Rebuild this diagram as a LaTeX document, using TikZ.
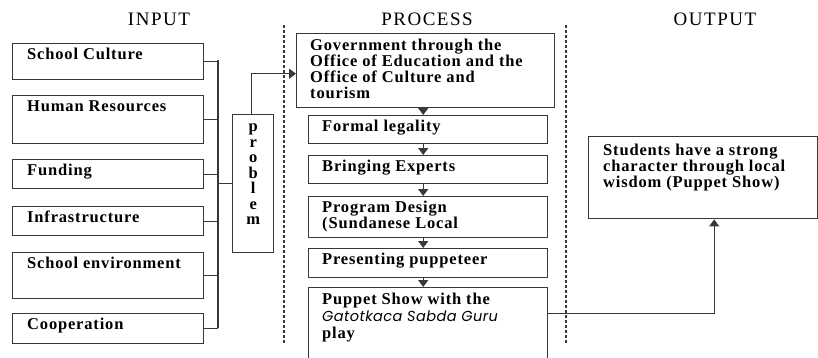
\documentclass[tikz,border=0pt]{standalone}
\usepackage{fontspec}
\setmainfont{Liberation Serif}
\newfontfamily\kastenfont[LetterSpace=5]{Liberation Serif}
\newfontfamily\titelfont[LetterSpace=8]{Liberation Serif}
\newfontfamily\kursivfont[LetterSpace=3]{Poppins}
\usetikzlibrary{arrows.meta}
\usetikzlibrary{positioning}
\definecolor{linie}{rgb}{0.22,0.22,0.22}

\begin{document}
\begin{tikzpicture}[x=1pt, y=-1pt, % Pixel-Raster, y nach unten
    kasten/.style={draw=linie, line width=1.4pt, anchor=north west, inner sep=0pt},
    inhalt/.style={anchor=north west, inner sep=0pt, align=left,
        font=\kastenfont\bfseries\fontsize{16.5}{16}\selectfont},
    titel/.style={font=\titelfont\fontsize{19}{19}\selectfont},
    pfeil/.style={draw=linie, line width=1.4pt, -{Triangle[length=7pt,width=10pt]}},
    trenner/.style={draw=linie, line width=1.4pt, dash pattern=on 3pt off 2pt}]

    \useasboundingbox (0,0) rectangle (818,357);

    % Spaltentitel
    \node[titel] (input) at (159,19) {INPUT};
    \node[titel] (process) at (427,19) {PROCESS};
    \node[titel] (output) at (715,19) {OUTPUT};

    % gestrichelte Trennlinien
    \draw[trenner] (284,25) -- (284,343);
    \draw[trenner] (566,25) -- (566,343);

    % Eingabe-Kaesten
    \coordinate (busoben) at (218,60);
    \coordinate (busunten) at (218,328);
    \draw[linie, line width=1.4pt] (busoben) -- (busunten);
    \foreach \name/\oben/\h/\txt in {
        kultur/43/36/School Culture, personal/95/48/Human Resources,
        finanz/159/29/Funding, infra/206/29/Infrastructure,
        umfeld/252/46/School environment, koop/313/30/Cooperation
    } {
        \node[kasten, minimum width=191, minimum height=\h] (\name) at (12,\oben) {};
        \node[inhalt] at ([xshift=15pt, yshift=-5pt]\name.north west) {\txt};
        \draw[linie, line width=1.4pt] (\name.east) -- (\name.east -| busoben);
    }

    % Problem-Kasten
    \node[kasten, minimum width=41, minimum height=138] (problem) at (232,114) {};
    \node[inhalt, anchor=north, align=center, font=\kastenfont\bfseries\fontsize{16.5}{15.5}\selectfont]
        at ([yshift=-10pt]problem.north) {p\\r\\o\\b\\l\\e\\m};
    \draw[linie, line width=1.4pt] (problem.west -| busoben) -- (problem.west);

    % Prozess-Kaesten
    \node[kasten, minimum width=258, minimum height=74] (regierung) at (296,33) {};
    \node[kasten, minimum width=239, minimum height=28] (legal) at (308,115) {};
    \node[kasten, minimum width=239, minimum height=28] (experten) at (308,155) {};
    \node[kasten, minimum width=239, minimum height=41] (design) at (308,196) {};
    \node[kasten, minimum width=239, minimum height=29] (puppenspieler) at (308,248) {};
    \node[kasten, minimum width=239, minimum height=72] (show) at (308,287) {};

    \node[inhalt] at ([xshift=14pt, yshift=-6pt]regierung.north west)
        {Government through the\\Office of Education and the\\Office of Culture and\\tourism};
    \node[inhalt] at ([xshift=14pt, yshift=-5pt]legal.north west) {Formal legality};
    \node[inhalt] at ([xshift=14pt, yshift=-5pt]experten.north west) {Bringing Experts};
    \node[inhalt] at ([xshift=14pt, yshift=-5pt]design.north west) {Program Design\\(Sundanese Local};
    \node[inhalt] at ([xshift=14pt, yshift=-5pt]puppenspieler.north west) {Presenting puppeteer};
    \node[inhalt, font=\kastenfont\bfseries\fontsize{16.5}{17}\selectfont]
        at ([xshift=14pt, yshift=-6pt]show.north west)
        {Puppet Show with the\\{\kursivfont\mdseries\itshape\fontsize{14.5}{17}\selectfont Gatotkaca Sabda Guru}\\play};

    \draw[pfeil] ([xshift=-5pt]legal.north |- regierung.south) -- ([xshift=-5pt]legal.north);
    \draw[pfeil] ([xshift=-5pt]legal.south) -- ([xshift=-5pt]experten.north);
    \draw[pfeil] ([xshift=-5pt]experten.south) -- ([xshift=-5pt]design.north);
    \draw[pfeil] ([xshift=-5pt]design.south) -- ([xshift=-5pt]puppenspieler.north);
    \draw[pfeil] ([xshift=-5pt]puppenspieler.south) -- ([xshift=-5pt]show.north);

    % Ausgabe
    \node[kasten, minimum width=229, minimum height=82] (ergebnis) at (588,136) {};
    \node[inhalt] at ([xshift=15pt, yshift=-8pt]ergebnis.north west)
        {Students have a strong\\character through local\\wisdom (Puppet Show)};

    \draw[pfeil] ([xshift=-2pt]problem.north) |- ([yshift=-3pt]regierung.west);
    \draw[pfeil] ([yshift=10pt]show.east) -| ([xshift=11pt]ergebnis.south);

\end{tikzpicture}
\end{document}
